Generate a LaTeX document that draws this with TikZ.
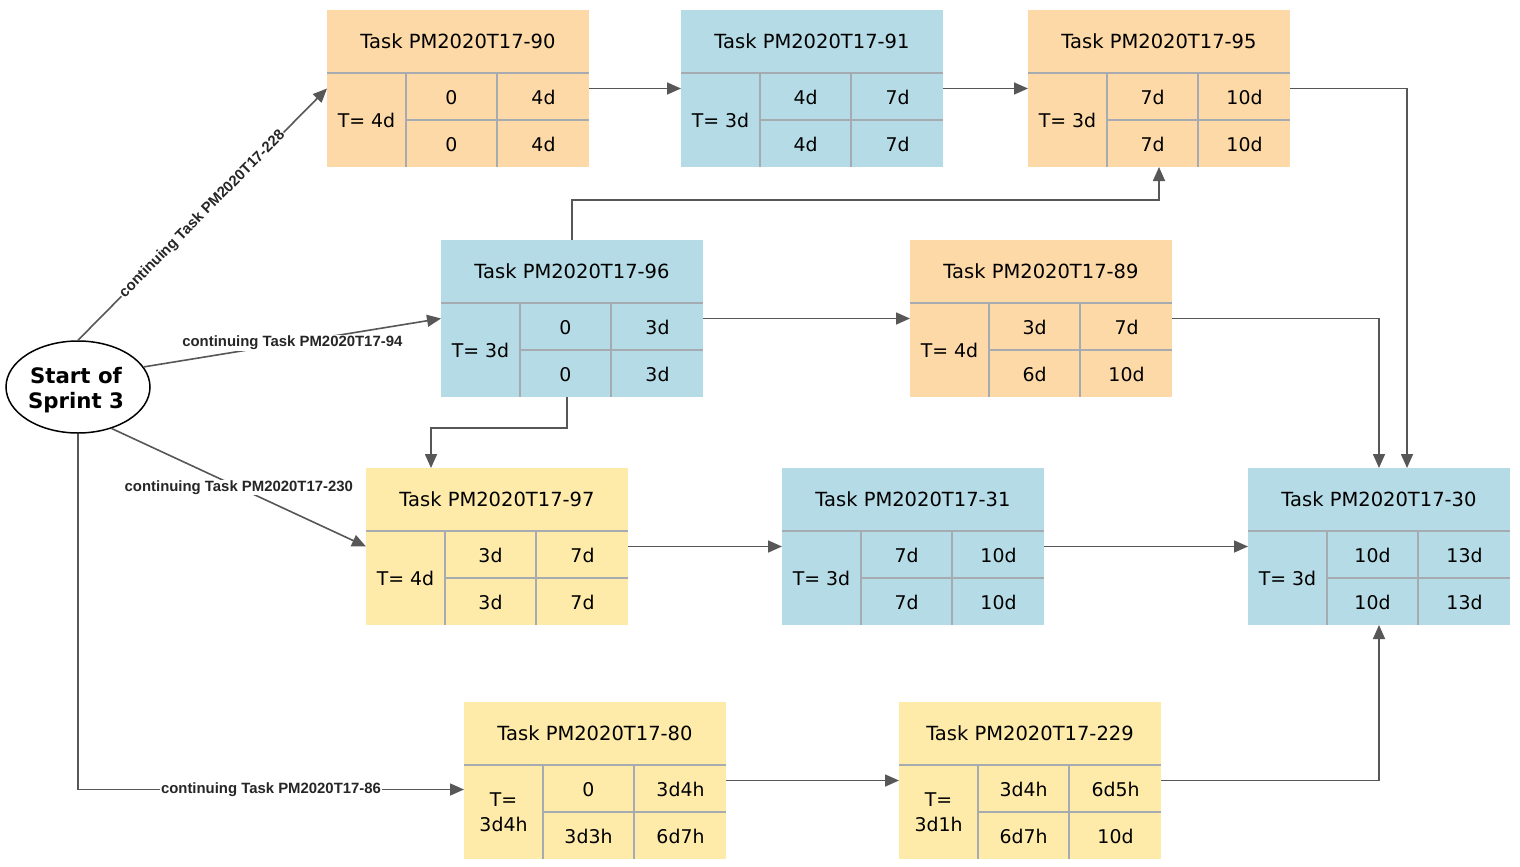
\documentclass[tikz,border=0pt]{standalone}
\usepackage{fontspec}
\setmainfont{DejaVu Sans}
\newfontfamily\labelfont{Liberation Sans}
\usetikzlibrary{arrows.meta,calc,shapes.geometric}

\definecolor{boxorange}{HTML}{FCD9A6}
\definecolor{boxblue}{HTML}{B5DCE6}
\definecolor{boxyellow}{HTML}{FEEBAA}
\definecolor{rulegray}{HTML}{A5ABB0}
\definecolor{linkgray}{HTML}{575757}

\tikzset{
  taskbox/.style={rectangle, inner sep=0pt, outer sep=0pt, minimum width=262pt,
    minimum height=157pt, anchor=north west},
  cellrule/.style={draw=rulegray, line width=1.8pt},
  celltext/.style={font=\fontsize{18.9}{25}\selectfont, inner sep=0pt},
  titletext/.style={font=\fontsize{19.5}{25}\selectfont, inner sep=0pt},
  link/.style={draw=linkgray, line width=1.6pt, -{Triangle[length=14pt,width=12pt]}},
  linklabel/.style={fill=white, text=black!85, inner sep=1pt,
    font=\labelfont\bfseries\fontsize{14.9}{17}\selectfont},
  startnode/.style={draw, ellipse, line width=1.5pt, minimum width=144pt,
    minimum height=92pt, inner sep=0pt, align=center,
    font=\bfseries\fontsize{21.3}{25}\selectfont},
}

% #1 name, #2 top-left corner, #3 fill, #4 title, #5 duration,
% #6 earliest start, #7 earliest finish, #8 latest start, #9 latest finish
\newcommand\drawtask[9]{%
  \node[taskbox, fill=#3] (#1) at (#2) {};
  \draw[cellrule] ($(#1.north west)+(0,63)$) -- ($(#1.north east)+(0,63)$);
  \draw[cellrule] ($(#1.north west)+(79,63)$) -- ($(#1.south west)+(79,0)$);
  \draw[cellrule] ($(#1.north west)+(170,63)$) -- ($(#1.south west)+(170,0)$);
  \draw[cellrule] ($(#1.north west)+(79,110)$) -- ($(#1.north east)+(0,110)$);
  \node[titletext] (#1-title) at ($(#1.north west)+(131,31.5)$) {#4};
  \node[celltext, align=center] (#1-dur) at ($(#1.north west)+(39.5,110.5)$) {#5};
  \node[celltext] (#1-es) at ($(#1.north west)+(124.5,87.5)$) {#6};
  \node[celltext] (#1-ef) at ($(#1.north west)+(216.5,87.5)$) {#7};
  \node[celltext] (#1-ls) at ($(#1.north west)+(124.5,134.5)$) {#8};
  \node[celltext] (#1-lf) at ($(#1.north west)+(216.5,134.5)$) {#9};
}

\begin{document}
\begin{tikzpicture}[x=1pt, y=-1pt]
  \fill[white] (0,0) rectangle (1520,867);
  \useasboundingbox (0,0) rectangle (1520,867);

  % task boxes
  \drawtask{t90}{327,10}{boxorange}{Task PM2020T17-90}{T= 4d}{0}{4d}{0}{4d}
  \drawtask{t91}{681,10}{boxblue}{Task PM2020T17-91}{T= 3d}{4d}{7d}{4d}{7d}
  \drawtask{t95}{1028,10}{boxorange}{Task PM2020T17-95}{T= 3d}{7d}{10d}{7d}{10d}
  \drawtask{t96}{441,240}{boxblue}{Task PM2020T17-96}{T= 3d}{0}{3d}{0}{3d}
  \drawtask{t89}{910,240}{boxorange}{Task PM2020T17-89}{T= 4d}{3d}{7d}{6d}{10d}
  \drawtask{t97}{366,468}{boxyellow}{Task PM2020T17-97}{T= 4d}{3d}{7d}{3d}{7d}
  \drawtask{t31}{782,468}{boxblue}{Task PM2020T17-31}{T= 3d}{7d}{10d}{7d}{10d}
  \drawtask{t30}{1248,468}{boxblue}{Task PM2020T17-30}{T= 3d}{10d}{13d}{10d}{13d}
  \drawtask{t80}{464,702}{boxyellow}{Task PM2020T17-80}{T=\\3d4h}{0}{3d4h}{3d3h}{6d7h}
  \drawtask{t229}{899,702}{boxyellow}{Task PM2020T17-229}{T=\\3d1h}{3d4h}{6d5h}{6d7h}{10d}

  % sprint start
  \node[startnode] (start) at (78,387) {};
  \node[font=\bfseries\fontsize{21.3}{25}\selectfont, align=center, inner sep=0pt]
    (start-text) at (76,390) {Start of\\Sprint 3};

  % links from the sprint start
  \draw[link] (start.north) -- node[linklabel, sloped] {continuing Task PM2020T17-228} (t90.west);
  \draw[link] (start.17) -- node[linklabel] {continuing Task PM2020T17-94} (t96.west);
  \draw[link] (start.-51) -- node[linklabel] {continuing Task PM2020T17-230} (t97.west);
  \draw[link] (start.south) |- node[linklabel, pos=0.75] {continuing Task PM2020T17-86}
    ([yshift=-9pt]t80.west);

  % dependencies between tasks
  \draw[link] (t90.east) -- (t91.west);
  \draw[link] (t91.east) -- (t95.west);
  \draw[link] (t95.east) -| ([xshift=28pt]t30.north);
  \draw[link] (t96.north) -- ++(0,-40) -| (t95.south);
  \draw[link] (t96.east) -- (t89.west);
  \draw[link] (t89.east) -| (t30.north);
  \draw[link] ([xshift=-5pt]t96.south) -- ++(0,31) -| ([xshift=-66pt]t97.north);
  \draw[link] (t97.east) -- (t31.west);
  \draw[link] (t31.east) -- (t30.west);
  \draw[link] (t80.east) -- (t229.west);
  \draw[link] (t229.east) -| (t30.south);
\end{tikzpicture}
\end{document}
